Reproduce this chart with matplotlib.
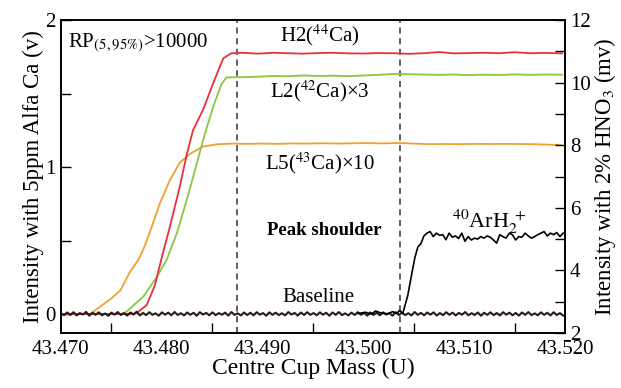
import numpy as np
import matplotlib.pyplot as plt
from matplotlib.ticker import MultipleLocator, FormatStrFormatter

plt.rcParams['font.family'] = ['Liberation Serif', 'DejaVu Serif']
plt.rcParams['mathtext.fontset'] = 'stix'

# H2 (44Ca) - red, volts
h2_x = [43.4700, 43.4770, 43.4775, 43.4785, 43.4793, 43.4801, 43.4808, 43.4818,
        43.4825, 43.4831, 43.4841, 43.4851, 43.4861, 43.4869, 43.4880,
        43.4895, 43.4910, 43.4925, 43.4940, 43.4955, 43.4970, 43.4985, 43.5000,
        43.5015, 43.5030, 43.5045, 43.5060, 43.5075, 43.5090, 43.5105, 43.5120,
        43.5135, 43.5150, 43.5165, 43.5180, 43.5197]
h2_y = [0.0, 0.0, 0.005, 0.06, 0.19, 0.41, 0.59, 0.87,
        1.09, 1.25, 1.39, 1.57, 1.74, 1.775, 1.778,
        1.772, 1.778, 1.775, 1.772, 1.776, 1.778, 1.774, 1.773,
        1.776, 1.775, 1.771, 1.775, 1.783, 1.774, 1.776, 1.778,
        1.775, 1.782, 1.775, 1.777, 1.774]

# L2 (42Ca) x3 - green, volts
l2_x = [43.4700, 43.4760, 43.4765, 43.4782, 43.4795, 43.4805, 43.4815, 43.4825,
        43.4835, 43.4843, 43.4851, 43.4859, 43.4864, 43.4880,
        43.4895, 43.4910, 43.4925, 43.4940, 43.4955, 43.4970, 43.4985, 43.5000,
        43.5015, 43.5030, 43.5045, 43.5060, 43.5075, 43.5090, 43.5105, 43.5120,
        43.5135, 43.5150, 43.5165, 43.5180, 43.5197]
l2_y = [0.0, 0.0, 0.015, 0.12, 0.25, 0.37, 0.55, 0.78,
        1.03, 1.23, 1.41, 1.56, 1.61, 1.612,
        1.615, 1.620, 1.618, 1.624, 1.620, 1.622, 1.619, 1.623,
        1.628, 1.634, 1.632, 1.630, 1.628, 1.630, 1.626, 1.629,
        1.627, 1.631, 1.628, 1.630, 1.629]

# L5 (43Ca) x10 - orange, volts
l5_x = [43.4700, 43.4729, 43.4735, 43.4749, 43.4759, 43.4768, 43.4777, 43.4783,
        43.4790, 43.4798, 43.4808, 43.4818, 43.4828, 43.4841, 43.4855, 43.4870,
        43.4885, 43.4900, 43.4915, 43.4930, 43.4945, 43.4960, 43.4975, 43.4990,
        43.5005, 43.5020, 43.5035, 43.5050, 43.5065, 43.5080, 43.5095, 43.5110,
        43.5125, 43.5140, 43.5155, 43.5170, 43.5185, 43.5195]
l5_y = [0.0, 0.0, 0.03, 0.10, 0.16, 0.28, 0.37, 0.46,
        0.59, 0.75, 0.91, 1.03, 1.09, 1.14, 1.155, 1.160,
        1.158, 1.160, 1.158, 1.161, 1.160, 1.162, 1.160, 1.162,
        1.163, 1.161, 1.164, 1.160, 1.156, 1.157, 1.156, 1.158,
        1.157, 1.158, 1.157, 1.156, 1.152, 1.151]

# Baseline (blank), volts, noisy trace
base_y = [0.004, -0.008, 0.010, -0.006, 0.012, -0.010, 0.006, -0.004, 0.014, -0.012,
          0.008, -0.006, 0.011, -0.009, 0.003, -0.013, 0.009, -0.005, 0.013, -0.007,
          0.006, -0.011, 0.010, -0.004, 0.015, -0.010, 0.007, -0.008, 0.012, -0.006,
          0.004, -0.012, 0.011, -0.005, 0.009, -0.009, 0.013, -0.007, 0.005, -0.010,
          0.010, -0.006, 0.008, -0.012, 0.012, -0.004, 0.007, -0.009, 0.011, -0.008,
          0.006, -0.005, 0.009, -0.011, 0.013, -0.006, 0.004, -0.010, 0.010, -0.007,
          0.008, -0.009, 0.012, -0.005, 0.006, -0.012, 0.011, -0.006, 0.009, -0.008,
          0.005, -0.010, 0.013, -0.004, 0.007, -0.011, 0.010, -0.007, 0.012, -0.006,
          0.006, -0.009, 0.011, -0.005, 0.008, -0.012, 0.010, -0.006, 0.013, -0.008,
          0.004, -0.010, 0.009, -0.007, 0.012, -0.005, 0.007, -0.011, 0.010, -0.006,
          0.008, -0.009, 0.011, -0.004, 0.006, -0.012, 0.012, -0.007, 0.009, -0.008,
          0.005, -0.010, 0.013, -0.006, 0.007, -0.009, 0.010, -0.005, 0.011, -0.011,
          0.006, -0.008, 0.012, -0.006, 0.009, -0.010, 0.007, -0.005, 0.013, -0.009,
          0.005, -0.007, 0.010, -0.012, 0.008, -0.006, 0.011, -0.008, 0.006, -0.010,
          0.012, -0.005, 0.009, -0.009, 0.007, -0.011, 0.010, -0.006, 0.013, -0.008,
          0.004, -0.009, 0.011, -0.006, 0.008, -0.010, 0.012, -0.007, 0.006, -0.011]
base_x0, base_x1 = 43.4700, 43.5198

# 40ArH2+ on right axis (mv)
ar_x = [43.4995, 43.5002, 43.5008, 43.5012, 43.5018, 43.5024, 43.5029, 43.5033,
        43.5036, 43.5039, 43.5044, 43.5048, 43.5051, 43.5054, 43.5057, 43.5060]
ar_y = [2.62, 2.66, 2.60, 2.70, 2.63, 2.61, 2.68, 2.62, 2.72, 2.62, 3.20, 3.90,
        4.40, 4.75, 4.85, 5.10]
ar_plateau = [5.19, 5.24, 5.08, 5.19, 5.12, 5.14, 4.98, 5.19, 5.06, 5.10,
              5.02, 5.19, 4.93, 5.08, 4.97, 5.03, 5.00, 5.08, 5.03, 5.10,
              5.06, 4.97, 4.87, 5.14, 5.08, 5.03, 5.19, 5.14, 4.97, 5.08,
              5.06, 5.19, 5.10, 5.03, 5.08, 5.14, 5.19, 5.24, 5.10, 5.19,
              5.14, 5.21, 5.08, 5.19]
ar_plateau_x0, ar_plateau_x1 = 43.5063, 43.5198

dash_x = [43.4875, 43.5036]

fig = plt.figure(figsize=(6.21, 3.88), dpi=100)
ax = fig.add_axes([0.098, 0.142, 0.812, 0.806])
ax2 = ax.twinx()

bx = np.linspace(base_x0, base_x1, len(base_y))
ax.plot(l5_x, l5_y, color='#f0a030', lw=1.3, zorder=3)
ax.plot(l2_x, l2_y, color='#8cc63f', lw=1.3, zorder=3)
ax.plot(h2_x, h2_y, color='#e8303a', lw=1.3, zorder=3)
ax.plot(bx, base_y, color='#2a1a1a', lw=1.5, zorder=4)

px = np.linspace(ar_plateau_x0, ar_plateau_x1, len(ar_plateau))
ax2.plot(list(ar_x) + list(px), list(ar_y) + list(ar_plateau), color='black', lw=1.2)

for d in dash_x:
    ax.axvline(d, color='#333333', lw=1.1, ls=(0, (4, 3)), zorder=2)

ax.set_xlim(43.470, 43.520)
ax.set_ylim(-0.129, 2.0)
ax2.set_ylim(2, 12)

ax.xaxis.set_major_locator(MultipleLocator(0.010))
ax.xaxis.set_minor_locator(MultipleLocator(0.005))
ax.xaxis.set_major_formatter(FormatStrFormatter('%.3f'))
ax.yaxis.set_major_locator(MultipleLocator(1))
ax.yaxis.set_minor_locator(MultipleLocator(0.5))
ax2.yaxis.set_major_locator(MultipleLocator(2))
ax2.yaxis.set_minor_locator(MultipleLocator(1))

ax.tick_params(axis='x', which='major', direction='in', length=0, labelsize=15, pad=5)
ax.tick_params(axis='x', which='minor', direction='in', length=7, width=1)
ax.tick_params(axis='y', which='both', direction='in', length=7, width=1, labelsize=15)
ax2.tick_params(axis='y', which='both', direction='in', length=7, width=1, labelsize=15)

for a in (ax, ax2):
    for s in a.spines.values():
        s.set_linewidth(1.2)

ax.set_xlabel('Centre Cup Mass (U)', fontsize=17, labelpad=-1)
ax.set_ylabel('Intensity with 5ppm Alfa Ca (v)', fontsize=16.5, labelpad=1)
ax2.set_ylabel('Intensity with 2% HNO$_3$ (mv)', fontsize=16.5, labelpad=1)

ax.text(43.4707, 1.84, 'RP$_{(5,95\\%)}$>10000', fontsize=15, va='center')
ax.text(43.4917, 1.90, 'H2($^{44}$Ca)', fontsize=15, va='center')
ax.text(43.4907, 1.52, 'L2($^{42}$Ca)×3', fontsize=15, va='center')
ax.text(43.4902, 1.03, 'L5($^{43}$Ca)×10', fontsize=15, va='center')
ax.text(43.4904, 0.57, 'Peak shoulder', fontsize=13.5, va='center', fontweight='bold')
ax.text(43.4920, 0.11, 'Baseline', fontsize=15, va='center')
ax2.text(43.5088, 5.55, '$^{40}$ArH$_2^{\\ +}$', fontsize=16, va='center')

fig.savefig('out.png', dpi=100)
